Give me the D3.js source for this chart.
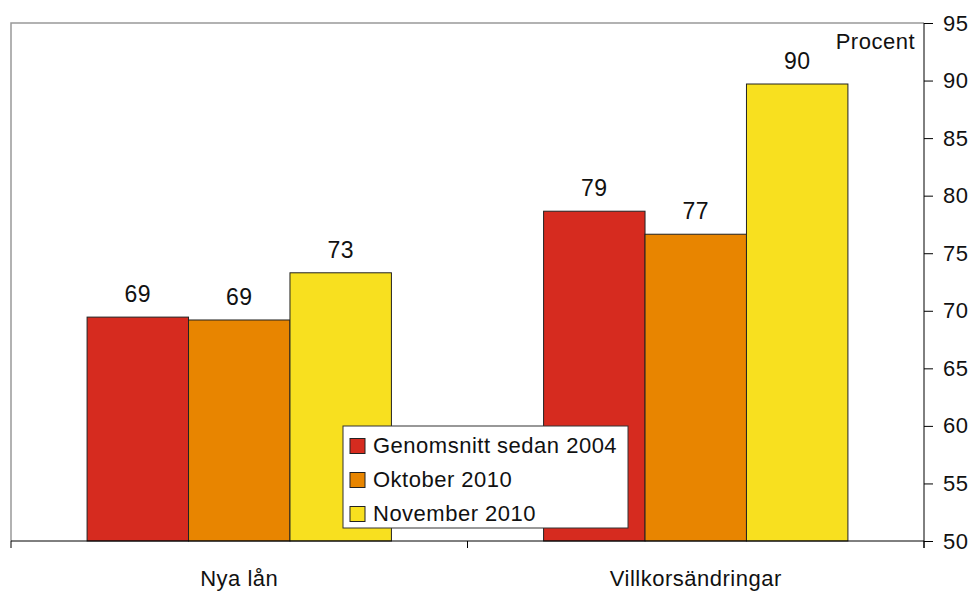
<!DOCTYPE html>
<html lang="sv">
<head>
<meta charset="UTF-8">
<title>Nya lån och villkorsändringar</title>
<style>
  body { margin: 0; background: #fff; }
  svg { font-family: "Liberation Sans", Arial, sans-serif; letter-spacing: 0.5px; }
</style>
</head>
<body>
<div id="chart"></div>
<script src="https://d3js.org/d3.v7.min.js"></script>
<script>
// data
var categories = ["Nya lån", "Villkorsändringar"];
var seriesNames = ["Genomsnitt sedan 2004", "Oktober 2010", "November 2010"];
var seriesColors = ["#d62b1f", "#e88500", "#f8e01f"];
var avgSince2004 = [69.45, 78.65];
var october2010 = [69.2, 76.65];
var november2010 = [73.3, 89.7];
var barLabels = [["69", "79"], ["69", "77"], ["73", "90"]];
var yTicks = [50, 55, 60, 65, 70, 75, 80, 85, 90, 95];

var series = [avgSince2004, october2010, november2010];

var W = 976, H = 592;
// plot box ("top" is taken on window, so other names)
var pLeft = 11, pRight = 924, pTop = 23, pBottom = 541;

var svg = d3.select("#chart").append("svg")
    .attr("width", W).attr("height", H);

var x = d3.scaleBand().domain(categories).range([pLeft, pRight]);
var xInner = d3.scaleBand().domain(d3.range(series.length))
    .range([0, x.bandwidth()]).paddingOuter(0.75);
var y = d3.scaleLinear().domain([50, 95]).range([pBottom, pTop]);

// frame (top and left, grey)
svg.append("path")
    .attr("d", "M" + pLeft + "," + pBottom + "V" + pTop + "H" + pRight)
    .attr("fill", "none").attr("stroke", "#999").attr("stroke-width", 1.5);

// bars
var groups = svg.selectAll("g.grp")
    .data(categories).enter().append("g")
    .attr("class", "grp")
    .attr("transform", function (d) { return "translate(" + x(d) + ",0)"; });

groups.each(function (cat, ci) {
    var g = d3.select(this);
    series.forEach(function (s, si) {
        g.append("rect")
            .attr("x", xInner(si))
            .attr("y", y(s[ci]))
            .attr("width", xInner.bandwidth())
            .attr("height", pBottom - y(s[ci]))
            .attr("fill", seriesColors[si])
            .attr("stroke", "#222").attr("stroke-width", 1);
        g.append("text")
            .attr("x", xInner(si) + xInner.bandwidth() / 2)
            .attr("y", y(s[ci]) - 15)
            .attr("text-anchor", "middle")
            .attr("font-size", 23)
            .attr("fill", "#111")
            .text(barLabels[si][ci]);
    });
});

// x axis
var xAxis = svg.append("g").attr("transform", "translate(0," + pBottom + ")");
xAxis.append("line").attr("x1", pLeft).attr("x2", pRight).attr("stroke", "#000");
xAxis.selectAll("line.tk")
    .data(categories.map(function (c) { return x(c); }).concat([pRight]))
    .enter().append("line").attr("class", "tk")
    .attr("x1", function (d) { return d; }).attr("x2", function (d) { return d; })
    .attr("y1", 0).attr("y2", 7).attr("stroke", "#000");
xAxis.selectAll("text")
    .data(categories).enter().append("text")
    .attr("x", function (d) { return x(d) + x.bandwidth() / 2; })
    .attr("y", 45)
    .attr("text-anchor", "middle")
    .attr("font-size", 22)
    .attr("fill", "#111")
    .text(function (d) { return d; });

// y axis on right
svg.append("g")
    .attr("transform", "translate(" + pRight + ",0)")
    .call(d3.axisRight(y).tickValues(yTicks).tickSize(9).tickPadding(10))
    .call(function (g) {
        g.select(".domain").attr("d", "M0," + pTop + "V" + (pBottom + 7));
        g.selectAll("text").attr("font-size", 22).attr("fill", "#111")
            .attr("font-family", "Liberation Sans, Arial, sans-serif");
    });

svg.append("text")
    .attr("x", pRight - 9).attr("y", 49)
    .attr("text-anchor", "end")
    .attr("font-size", 22).attr("fill", "#111")
    .text("Procent");

// legend
var legend = svg.append("g").attr("transform", "translate(343,426)");
legend.append("rect")
    .attr("width", 285).attr("height", 102)
    .attr("fill", "#fff").attr("stroke", "#333").attr("stroke-width", 1);
var items = legend.selectAll("g.item")
    .data(seriesNames).enter().append("g")
    .attr("class", "item")
    .attr("transform", function (d, i) { return "translate(7," + (20 + i * 34) + ")"; });
items.append("rect")
    .attr("x", 0).attr("y", -7.5).attr("width", 15).attr("height", 15)
    .attr("fill", function (d, i) { return seriesColors[i]; })
    .attr("stroke", "#222");
items.append("text")
    .attr("x", 23).attr("y", 7)
    .attr("font-size", 22).attr("fill", "#111")
    .text(function (d) { return d; });
</script>
</body>
</html>
